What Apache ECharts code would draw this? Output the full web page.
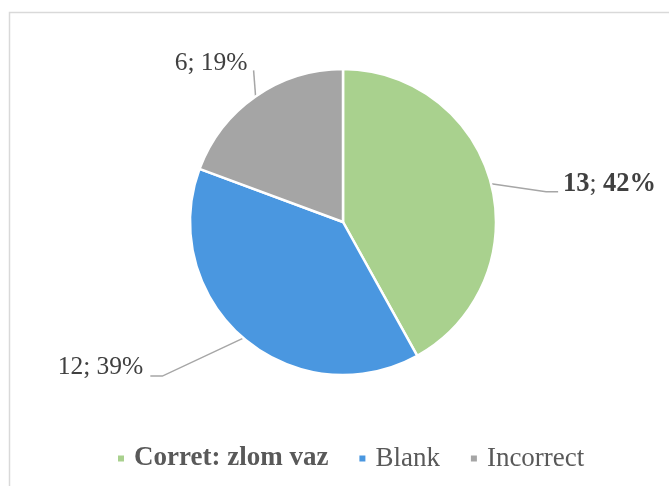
<!DOCTYPE html>
<html>
<head>
<meta charset="utf-8">
<script src="https://cdn.jsdelivr.net/npm/echarts@6/dist/echarts.min.js"></script>
<style>
  html, body { margin: 0; padding: 0; background: #fff; }
  #chart { width: 669px; height: 486px; }
</style>
</head>
<body>
<div id="chart"></div>
<script>
const categories = ["Corret: zlom vaz", "Blank", "Incorrect"];
const values = [13, 12, 6];
const percents = [42, 39, 19];
const colors = ["#A9D18E", "#4A97E0", "#A5A5A5"];

// label line offsets from the arc point (elbow, end) and text anchor
const lineOffsets = [
  { elbow: [55, 8], end: [67, 8], text: [72, 1], align: "left" },
  { elbow: [-81, 38], end: [-93, 38], text: [-100, 29], align: "right" },
  { elbow: [-1, -13], end: [-2, -26], text: [-8, -33], align: "right" },
];

const chart = echarts.init(document.getElementById("chart"));

chart.setOption({
  animation: false,
  graphic: [
    {
      type: "rect",
      shape: { x: 9.5, y: 12.5, width: 700, height: 500 },
      style: { fill: "none", stroke: "#D9D9D9", lineWidth: 1.5 },
    },
  ],
  legend: {
    data: categories.map((c, i) => (i === 0 ? { name: c, textStyle: { fontWeight: "bold" } } : { name: c })),
    left: 116,
    top: 445,
    padding: 0,
    icon: "rect",
    itemWidth: 8,
    itemHeight: 8,
    itemGap: 29,
    textStyle: {
      fontFamily: "Liberation Serif",
      fontSize: 27,
      color: "#595959",
      padding: [0, 0, 0, 4],
    },
  },
  series: [
    {
      type: "pie",
      center: [343, 222],
      radius: 153,
      startAngle: 90,
      clockwise: true,
      itemStyle: { borderColor: "#fff", borderWidth: 2.5 },
      label: {
        show: true,
        position: "outside",
        fontFamily: "Liberation Serif",
        fontSize: 25.5,
        color: "#404040",
        formatter: (p) => values[p.dataIndex] + "; " + percents[p.dataIndex] + "%",
      },
      labelLine: {
        show: true,
        length: 20,
        length2: 12,
        lineStyle: { color: "#A6A6A6", width: 1.5 },
      },
      labelLayout: (params) => {
        const o = lineOffsets[params.dataIndex];
        const p0 = params.labelLinePoints[0];
        return {
          x: p0[0] + o.text[0],
          y: p0[1] + o.text[1],
          align: o.align,
          verticalAlign: "middle",
          labelLinePoints: [
            [p0[0], p0[1]],
            [p0[0] + o.elbow[0], p0[1] + o.elbow[1]],
            [p0[0] + o.end[0], p0[1] + o.end[1]],
          ],
        };
      },
      data: categories.map((c, i) => {
        const item = { name: c, value: values[i], itemStyle: { color: colors[i] } };
        if (i === 0) {
          item.label = {
            formatter: "{b|" + values[i] + "}; {b|" + percents[i] + "%}",
            rich: {
              b: { fontFamily: "Liberation Serif", fontSize: 26.5, fontWeight: "bold", color: "#404040" },
            },
          };
        }
        return item;
      }),
    },
  ],
});
</script>
</body>
</html>
